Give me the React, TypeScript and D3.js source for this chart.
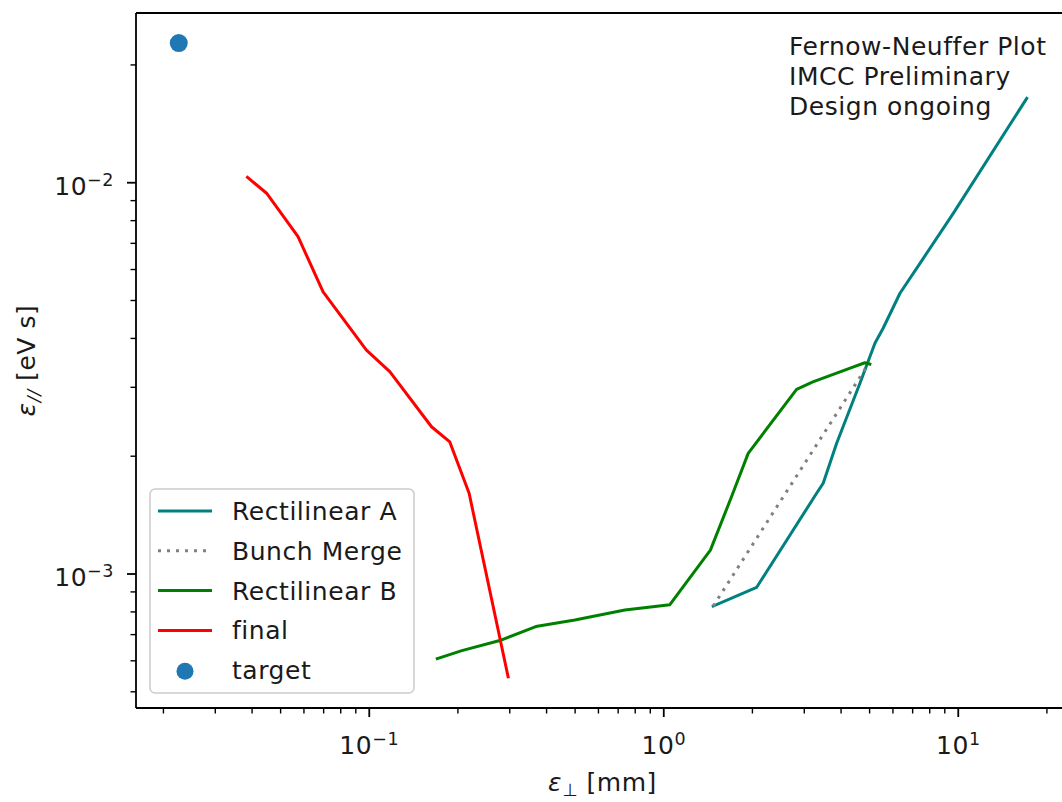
import React from "react";
import * as d3 from "d3";

// ---- data ----
const rectAX = [1.472, 2.066, 3.304, 3.478, 3.864, 4.636, 5.212, 5.563, 6.34, 7.413, 9.616, 17.08];
const rectAY = [0.000828, 0.000924, 0.001608, 0.001706, 0.002158, 0.003072, 0.003887, 0.004253, 0.005218, 0.006223, 0.008351, 0.01643];

const mergeX = [1.472, 4.886];
const mergeY = [0.000828, 0.003387];

const rectBX = [0.1702, 0.2062, 0.2775, 0.3677, 0.4989, 0.7378, 1.049, 1.44, 1.697, 1.935, 2.825, 3.209, 4.387, 4.82, 5.01];
const rectBY = [0.000608, 0.000637, 0.000676, 0.000734, 0.000763, 0.000809, 0.000835, 0.001151, 0.001573, 0.002034, 0.002965, 0.003096, 0.00338, 0.003467, 0.00344];

const finalX = [0.0386, 0.0448, 0.0573, 0.0697, 0.0978, 0.1174, 0.1627, 0.1877, 0.2183, 0.2961];
const finalY = [0.01032, 0.0094, 0.00728, 0.00526, 0.003736, 0.003289, 0.002379, 0.002175, 0.001608, 0.000546];

const targetX = [0.02255];
const targetY = [0.02275];

const xDomain = [0.01614, 23.77];
const yDomain = [0.0004545, 0.02715];

const xMajorTicks = [0.1, 1, 10];
const xMajorLabels = ["−1", "0", "1"];
const yMajorTicks = [0.001, 0.01];
const yMajorLabels = ["−3", "−2"];

const legendLabels = ["Rectilinear A", "Bunch Merge", "Rectilinear B", "final", "target"];
const annotationLines = ["Fernow-Neuffer Plot", "IMCC Preliminary", "Design ongoing"];

const W = 1062;
const H = 802;
const L = 136, R = 1069, T = 13, B = 708;
const FONT = "'DejaVu Sans', sans-serif";
const FS = 25;
const LS = 0.55;
const TXT = "#1a1a1a";

function minorTicks(domain: number[]) {
  const out: number[] = [];
  const lo = Math.floor(Math.log10(domain[0]));
  const hi = Math.ceil(Math.log10(domain[1]));
  for (let e = lo; e <= hi; e++) {
    for (let m = 2; m <= 9; m++) {
      const v = m * Math.pow(10, e);
      if (v >= domain[0] && v <= domain[1]) out.push(v);
    }
  }
  return out;
}

export default function App() {
  const x = d3.scaleLog().domain(xDomain).range([L, R]);
  const y = d3.scaleLog().domain(yDomain).range([B, T]);

  const line = d3
    .line<[number, number]>()
    .x((d) => x(d[0]))
    .y((d) => y(d[1]));

  const zip = (a: number[], b: number[]) => a.map((v, i) => [v, b[i]] as [number, number]);

  const series = [
    { xs: rectAX, ys: rectAY, color: "#008080", dash: undefined as string | undefined },
    { xs: mergeX, ys: mergeY, color: "#808080", dash: "3,6" },
    { xs: rectBX, ys: rectBY, color: "#008000", dash: undefined },
    { xs: finalX, ys: finalY, color: "#ff0000", dash: undefined },
  ];

  const xMinor = minorTicks(xDomain);
  const yMinor = minorTicks(yDomain);

  const legX = 150, legY = 489, legW = 264, legH = 204;
  const rowY = (i: number) => 511 + i * 39.8;

  return (
    <svg
      width={W}
      height={H}
      style={{ position: "absolute", left: 0, top: 0, background: "#fff" }}
      fontFamily={FONT}
      letterSpacing={LS}
    >
      <rect x={0} y={0} width={W} height={H} fill="#fff" />
      <defs>
        <clipPath id="plotclip">
          <rect x={L} y={T} width={R - L} height={B - T} />
        </clipPath>
      </defs>

      <g clipPath="url(#plotclip)">
        {series.map((s, i) => (
          <path
            key={i}
            d={line(zip(s.xs, s.ys)) || ""}
            fill="none"
            stroke={s.color}
            strokeWidth={3}
            strokeDasharray={s.dash}
            strokeLinejoin="round"
            strokeLinecap={s.dash ? "butt" : "square"}
          />
        ))}
        {targetX.map((tx, i) => (
          <circle key={i} cx={x(tx)} cy={y(targetY[i])} r={9} fill="#1f77b4" />
        ))}
      </g>

      {/* annotation */}
      <text x={789} y={55} fontSize={FS} fill={TXT}>
        {annotationLines.map((t, i) => (
          <tspan key={i} x={789} y={55 + i * 30}>
            {t}
          </tspan>
        ))}
      </text>

      {/* spines */}
      <g stroke="#000" strokeWidth={1.8} fill="none">
        <line x1={L} y1={T} x2={L} y2={B} />
        <line x1={L} y1={B} x2={R} y2={B} />
        <line x1={L} y1={T} x2={R} y2={T} />
        <line x1={R} y1={T} x2={R} y2={B} />
      </g>

      {/* ticks */}
      <g stroke="#000">
        {xMajorTicks.map((t) => (
          <line key={"xM" + t} x1={x(t)} x2={x(t)} y1={B} y2={B + 9} strokeWidth={1.8} />
        ))}
        {xMinor.map((t) => (
          <line key={"xm" + t} x1={x(t)} x2={x(t)} y1={B} y2={B + 5.5} strokeWidth={1.4} />
        ))}
        {yMajorTicks.map((t) => (
          <line key={"yM" + t} y1={y(t)} y2={y(t)} x1={L} x2={L - 9} strokeWidth={1.8} />
        ))}
        {yMinor.map((t) => (
          <line key={"ym" + t} y1={y(t)} y2={y(t)} x1={L} x2={L - 5.5} strokeWidth={1.4} />
        ))}
      </g>

      {/* tick labels */}
      {xMajorTicks.map((t, i) => (
        <text key={"xl" + t} x={x(t)} y={754} textAnchor="middle" fontSize={FS} fill={TXT}>
          10
          <tspan dy={-9} fontSize={17.5}>
            {xMajorLabels[i]}
          </tspan>
        </text>
      ))}
      {yMajorTicks.map((t, i) => (
        <text key={"yl" + t} x={114} y={y(t) + 12.3} textAnchor="end" fontSize={FS} fill={TXT}>
          10
          <tspan dy={-9} fontSize={17.5}>
            {yMajorLabels[i]}
          </tspan>
        </text>
      ))}

      {/* axis labels */}
      <text x={(L + R) / 2} y={791} textAnchor="middle" fontSize={FS} fill={TXT}>
        <tspan fontStyle="italic">ε</tspan>
        <tspan dy={5} fontSize={17.5}>⊥</tspan>
        <tspan dy={-5}> [mm]</tspan>
      </text>
      <text
        transform={`translate(35, ${(T + B) / 2}) rotate(-90)`}
        textAnchor="middle"
        fontSize={FS}
        fill={TXT}
      >
        <tspan fontStyle="italic">ε</tspan>
        <tspan dy={5} fontSize={17.5} fontStyle="italic">//</tspan>
        <tspan dy={-5}> [eV s]</tspan>
      </text>

      {/* legend */}
      <g>
        <rect
          x={legX}
          y={legY}
          width={legW}
          height={legH}
          rx={5}
          fill="#fff"
          fillOpacity={0.8}
          stroke="#cccccc"
          strokeWidth={1.5}
        />
        {legendLabels.map((lab, i) => {
          const ry = rowY(i);
          const s = series[i];
          return (
            <g key={lab}>
              {i < 4 ? (
                <line
                  x1={158}
                  x2={212}
                  y1={ry}
                  y2={ry}
                  stroke={s.color}
                  strokeWidth={3}
                  strokeDasharray={s.dash}
                />
              ) : (
                <circle cx={185} cy={ry + 1} r={8.5} fill="#1f77b4" />
              )}
              <text x={232} y={ry + 9} fontSize={FS} fill={TXT}>
                {lab}
              </text>
            </g>
          );
        })}
      </g>
    </svg>
  );
}
